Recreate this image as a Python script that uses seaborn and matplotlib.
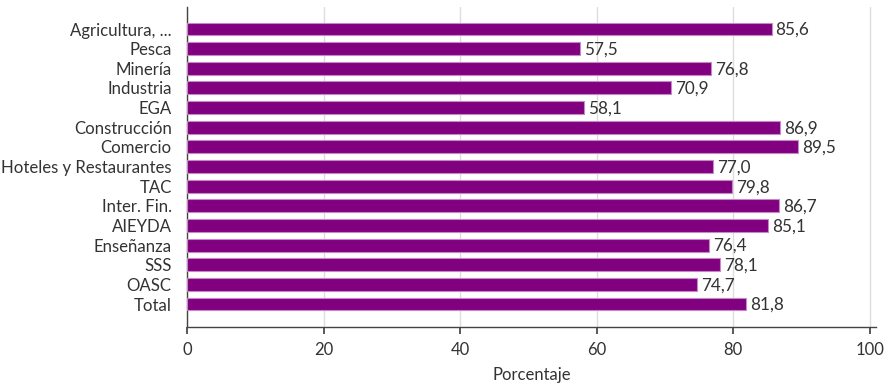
import matplotlib
matplotlib.use("Agg")
import matplotlib.pyplot as plt
import seaborn as sns
import pandas as pd

sectores = ["Agricultura, ...", "Pesca", "Minería", "Industria", "EGA",
            "Construcción", "Comercio", "Hoteles y Restaurantes", "TAC",
            "Inter. Fin.", "AIEYDA", "Enseñanza", "SSS", "OASC", "Total"]
porcentajes = [85.6, 57.5, 76.8, 70.9, 58.1, 86.9, 89.5, 77.0, 79.8,
               86.7, 85.1, 76.4, 78.1, 74.7, 81.8]

sns.set_theme(style="white")
plt.rcParams["font.family"] = ["Lato", "DejaVu Sans"]

df = pd.DataFrame({"sector": sectores, "valor": porcentajes})

fig = plt.figure(figsize=(8.85, 3.84), dpi=100)
ax = fig.add_axes([187 / 885, 1 - 327 / 384, (876 - 187) / 885, (327 - 7) / 384])

sns.barplot(data=df, x="valor", y="sector", ax=ax, color="#800080",
            saturation=1, width=0.66, edgecolor="#c58ac5", linewidth=0.8,
            zorder=3)

for i, v in enumerate(porcentajes):
    ax.text(v + 0.6, i + 0.05, f"{v:.1f}".replace(".", ","), va="center",
            ha="left", fontsize=12.3, color="#333333")

ax.set_xlim(0, 100.9)
ax.set_ylim(len(sectores) - 1 + 1.17, -1.12)
ax.set_xticks([0, 20, 40, 60, 80, 100])
ax.xaxis.grid(True, color="#dddddd", linewidth=1, zorder=0)
ax.set_axisbelow(True)
for s in ["top", "right"]:
    ax.spines[s].set_visible(False)
for s in ["left", "bottom"]:
    ax.spines[s].set_color("#444444")
    ax.spines[s].set_linewidth(1)
ax.tick_params(axis="x", bottom=True, length=5, color="#444444",
               labelsize=12, labelcolor="#333333", pad=6)
ax.tick_params(axis="y", left=False, labelsize=12.1, labelcolor="#333333", pad=5)
ax.set_ylabel("")
ax.set_xlabel("Porcentaje", fontsize=12, color="#333333", labelpad=6)

fig.savefig("out.png", dpi=100)
